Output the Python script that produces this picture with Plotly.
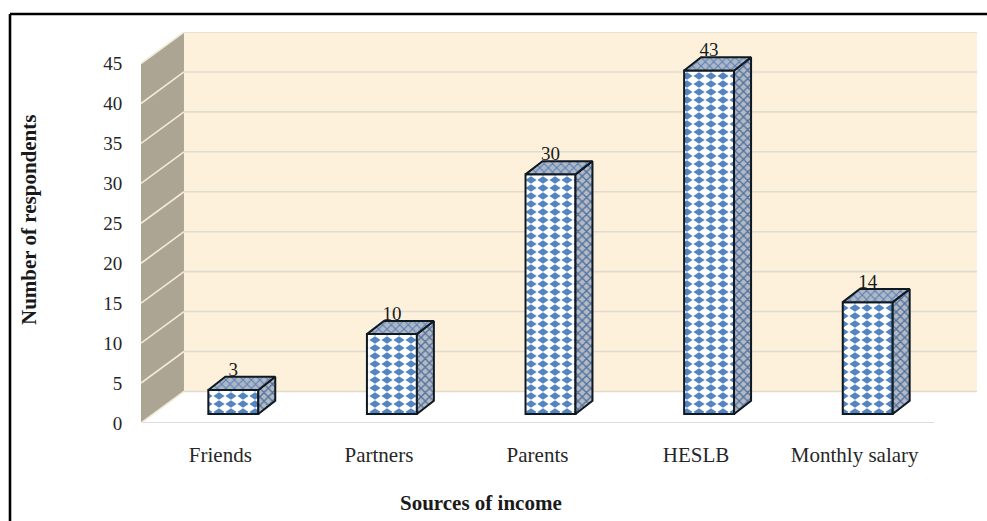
import plotly.graph_objects as go

# Chart data
categories = ["Friends", "Partners", "Parents", "HESLB", "Monthly salary"]
respondents = [3, 10, 30, 43, 14]
y_ticks = [0, 5, 10, 15, 20, 25, 30, 35, 40, 45]

# Pseudo-3D projection, in axis units
WALL_DX, WALL_DY = 0.271, 3.95      # depth of the chart box
BAR_DX, BAR_DY = 0.082, 1.13        # front of each bar relative to the floor edge
DEPTH_DX, DEPTH_DY = 0.107, 1.65    # depth of each bar
BAR_W = 0.315
X0, X1 = -0.5, 4.5
Y_TOP = 45

SERIF = "Liberation Serif, Times New Roman, serif"
DIAMONDS = "".join(
    f"M{cx},{cy - 3.8}L{cx + 5.6},{cy}L{cx},{cy + 3.8}L{cx - 5.6},{cy}Z"
    for cx in (6, 18) for cy in (4, 12, 20)
)


def poly(xs, ys, color, line=None):
    path = "M" + "L".join(f"{x},{y}" for x, y in zip(xs, ys)) + "Z"
    return dict(type="path", path=path, xref="x", yref="y", layer="below",
                fillcolor=color, line=line or dict(width=0))


def seg(x0, y0, x1, y1, color, width=1.6):
    return dict(type="line", x0=x0, y0=y0, x1=x1, y1=y1, xref="x", yref="y",
                layer="below", line=dict(color=color, width=width))


shapes = [
    # floor, back wall, side wall
    poly([X0, X1, X1 + WALL_DX, X0 + WALL_DX], [0, 0, WALL_DY, WALL_DY], "#ffffff"),
    poly([X0 + WALL_DX, X1 + WALL_DX, X1 + WALL_DX, X0 + WALL_DX],
         [WALL_DY, WALL_DY, Y_TOP + WALL_DY, Y_TOP + WALL_DY], "#fdf1db"),
    poly([X0, X0 + WALL_DX, X0 + WALL_DX, X0],
         [0, WALL_DY, Y_TOP + WALL_DY, Y_TOP], "#aca593"),
    seg(X0, 0, X1, 0, "#dcdcdc", 2.2),
]
for t in y_ticks:
    shapes.append(seg(X0, t, X0 + WALL_DX, t + WALL_DY, "#f3ead6"))
    shapes.append(seg(X0 + WALL_DX, t + WALL_DY, X1 + WALL_DX, t + WALL_DY, "#e0dbcf"))

# Frame around the figure: top and left edges only
shapes += [
    dict(type="line", xref="paper", yref="paper", x0=-131 / 836, x1=1.02,
         y0=1 + 18 / 391, y1=1 + 18 / 391, line=dict(color="#000000", width=2.6)),
    dict(type="line", xref="paper", yref="paper", x0=-131 / 836, x1=-131 / 836,
         y0=-98 / 391, y1=1 + 18 / 391, line=dict(color="#000000", width=2.6)),
]

fig = go.Figure()

# Bar fronts
centers = [i + BAR_DX for i in range(len(categories))]
fig.add_trace(go.Bar(
    x=centers, y=respondents, base=BAR_DY, width=BAR_W,
    marker=dict(
        color="#ffffff",
        line=dict(color="#101820", width=2),
        pattern=dict(path=DIAMONDS, size=24, bgcolor="#ffffff", fgcolor="#5585c0",
                     fgopacity=1, fillmode="replace"),
    ),
    hoverinfo="skip",
))

edge = dict(color="#101820", width=2)
for cx, v in zip(centers, respondents):
    left, right = cx - BAR_W / 2, cx + BAR_W / 2
    top = v + BAR_DY
    # right side of the bar
    fig.add_trace(go.Scatter(
        x=[right, right + DEPTH_DX, right + DEPTH_DX, right, right],
        y=[BAR_DY, BAR_DY + DEPTH_DY, top + DEPTH_DY, top, BAR_DY],
        mode="lines", fill="toself", line=edge, fillcolor="#8495ad",
        fillpattern=dict(shape="x", size=6, solidity=0.4, bgcolor="#b4bac4",
                         fgcolor="#4f719e", fillmode="replace"),
        hoverinfo="skip",
    ))
    # top of the bar
    fig.add_trace(go.Scatter(
        x=[left, right, right + DEPTH_DX, left + DEPTH_DX, left],
        y=[top, top, top + DEPTH_DY, top + DEPTH_DY, top],
        mode="lines", fill="toself", line=edge, fillcolor="#8fa3c0",
        fillpattern=dict(shape="x", size=6, solidity=0.35, bgcolor="#aeb7c6",
                         fgcolor="#5b82b5", fillmode="replace"),
        hoverinfo="skip",
    ))

# Value labels above each bar
fig.add_trace(go.Scatter(
    x=centers, y=[v + BAR_DY + 2.35 for v in respondents],
    mode="text", text=[str(v) for v in respondents], textposition="middle center",
    textfont=dict(family=SERIF, size=19, color="#1a1a1a"),
    hoverinfo="skip", cliponaxis=False,
))

fig.update_layout(
    width=987, height=521,
    margin=dict(l=141, r=10, t=32, b=98),
    paper_bgcolor="#ffffff", plot_bgcolor="#ffffff",
    showlegend=False, shapes=shapes,
    xaxis=dict(
        range=[X0, X1 + WALL_DX], tickmode="array",
        tickvals=list(range(len(categories))), ticktext=categories,
        showgrid=False, zeroline=False, showline=False,
        ticks="outside", ticklen=13, tickcolor="rgba(0,0,0,0)",
        tickfont=dict(family=SERIF, size=21, color="#262626"),
    ),
    yaxis=dict(
        range=[0, Y_TOP + WALL_DY], tickmode="array", tickvals=y_ticks,
        showgrid=False, zeroline=False, showline=False,
        ticks="outside", ticklen=14, tickcolor="rgba(0,0,0,0)",
        tickfont=dict(family=SERIF, size=19, color="#262626"),
    ),
    annotations=[
        dict(text="<b>Number of respondents</b>", textangle=-90, showarrow=False,
             xref="paper", yref="paper", x=-112 / 836, y=(423 - 220) / 391,
             xanchor="center", yanchor="middle",
             font=dict(family=SERIF, size=21, color="#1a1a1a")),
        dict(text="<b>Sources of income</b>", showarrow=False,
             xref="paper", yref="paper", x=(481 - 141) / 836, y=-(503 - 423) / 391,
             xanchor="center", yanchor="middle",
             font=dict(family=SERIF, size=21, color="#1a1a1a")),
    ],
)

fig.write_html("out.html")
